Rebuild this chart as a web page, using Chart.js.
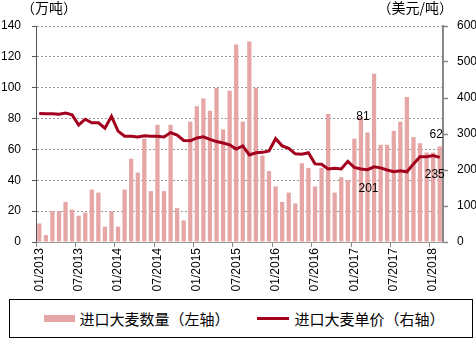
<!DOCTYPE html>
<html>
<head>
<meta charset="utf-8">
<script src="https://cdn.jsdelivr.net/npm/chart.js@4.4.1/dist/chart.umd.min.js"></script>
<style>
  html, body { margin: 0; padding: 0; background: #fff; }
  #wrap { position: relative; width: 476px; height: 339px; }
  #chart { position: absolute; left: 0; top: 0; }
  #legend {
    position: absolute; left: 9px; top: 299px; height: 37px;
    border: 1px solid #000; display: flex; align-items: center;
    padding-left: 34px; box-sizing: content-box; width: 428px;
    font: 15px "Noto Sans CJK SC", sans-serif; color: #000;
  }
  .item { display: flex; align-items: center; margin-right: 30px; }
  .swatch { margin-right: 4px; }
</style>
</head>
<body>
<div id="wrap">
  <canvas id="chart" width="476" height="299"></canvas>
  <div id="legend"></div>
</div>
<script>
const months = [
  '01/2013', '02/2013', '03/2013', '04/2013', '05/2013', '06/2013', '07/2013', '08/2013', '09/2013', '10/2013', '11/2013', '12/2013',
  '01/2014', '02/2014', '03/2014', '04/2014', '05/2014', '06/2014', '07/2014', '08/2014', '09/2014', '10/2014', '11/2014', '12/2014',
  '01/2015', '02/2015', '03/2015', '04/2015', '05/2015', '06/2015', '07/2015', '08/2015', '09/2015', '10/2015', '11/2015', '12/2015',
  '01/2016', '02/2016', '03/2016', '04/2016', '05/2016', '06/2016', '07/2016', '08/2016', '09/2016', '10/2016', '11/2016', '12/2016',
  '01/2017', '02/2017', '03/2017', '04/2017', '05/2017', '06/2017', '07/2017', '08/2017', '09/2017', '10/2017', '11/2017', '12/2017',
  '01/2018', '02/2018'
];

// 进口大麦数量, 万吨
const importVolume = [
  12, 4.5, 20, 20, 26, 21, 17, 19, 34, 32, 10, 20,
  10, 34, 54, 45, 67, 33, 76, 33, 76, 22, 14, 78,
  88, 93, 85, 100, 73, 98, 128, 78, 130, 100, 56, 46,
  36, 26, 32, 25, 51, 48, 36, 48, 83, 32, 42, 40,
  67, 81, 71, 109, 63, 63, 72, 78, 94, 68, 64, 58,
  58, 62
];

// 进口大麦单价, 美元/吨
const importPrice = [
  357, 356, 356, 355, 358, 353, 325, 341, 331, 331, 316, 349,
  308, 294, 294, 292, 295, 294, 294, 292, 304, 297, 282, 281,
  289, 292, 285, 279, 275, 270, 258, 267, 242, 248, 249, 253,
  287, 267, 260, 245, 244, 248, 217, 216, 203, 205, 203, 224,
  207, 203, 201, 209, 206, 200, 195, 198, 195, 217, 237, 237,
  240, 235
];

const volumeLabel = '进口大麦数量（左轴）';
const priceLabel = '进口大麦单价（右轴）';
const leftUnit = '（万吨）';
const rightUnit = '（美元/吨）';

// which points get a value written next to them
const volumeCallouts = [49, 61];
const priceCallouts = [50, 61];

const tickFont = { family: '"Liberation Sans", Arial, sans-serif', size: 12 };
const barColor = '#E6A6A6';
const lineColor = '#A3001E';

const extras = {
  id: 'extras',
  afterDatasetsDraw(chart) {
    const { ctx, chartArea } = chart;
    ctx.save();
    ctx.fillStyle = '#000';
    ctx.textBaseline = 'middle';
    ctx.font = '14px "Noto Sans CJK SC"';
    ctx.textAlign = 'left';
    ctx.fillText(leftUnit, chartArea.left - 15, chartArea.top - 18);
    ctx.textAlign = 'right';
    ctx.fillText(rightUnit, chartArea.right + 10, chartArea.top - 18);

    ctx.font = '12px "Liberation Sans", Arial, sans-serif';
    ctx.textAlign = 'center';
    ctx.textBaseline = 'alphabetic';
    const bars = chart.getDatasetMeta(1).data;
    const line = chart.getDatasetMeta(0).data;
    const volOffsets = [[2, 3], [-3.5, -8]];
    const priceOffsets = [[1, 22], [-5, 21]];
    volumeCallouts.forEach((i, k) => {
      const el = bars[i];
      ctx.fillText(String(importVolume[i]), el.x + volOffsets[k][0], el.y + volOffsets[k][1]);
    });
    priceCallouts.forEach((i, k) => {
      const el = line[i];
      ctx.fillText(String(importPrice[i]), el.x + priceOffsets[k][0], el.y + priceOffsets[k][1]);
    });
    ctx.restore();
  }
};

const chart = new Chart(document.getElementById('chart'), {
  type: 'bar',
  data: {
    labels: months,
    datasets: [
      {
        type: 'line',
        label: priceLabel,
        data: importPrice,
        yAxisID: 'y1',
        borderColor: lineColor,
        backgroundColor: lineColor,
        borderWidth: 3,
        pointRadius: 0,
        tension: 0,
        order: 0
      },
      {
        type: 'bar',
        label: volumeLabel,
        data: importVolume,
        yAxisID: 'y',
        backgroundColor: barColor,
        barPercentage: 0.65,
        categoryPercentage: 1,
        order: 1
      }
    ]
  },
  options: {
    responsive: false,
    animation: false,
    devicePixelRatio: 1,
    layout: { padding: { top: 26, left: 0, right: 0, bottom: 0 } },
    plugins: { legend: { display: false }, tooltip: { enabled: false } },
    scales: {
      x: {
        offset: true,
        grid: {
          offset: true,
          drawOnChartArea: false,
          tickLength: 5,
          tickColor: c => (c.index % 6 === 0 ? '#888' : 'rgba(0,0,0,0)')
        },
        border: { color: '#999', width: 1 },
        ticks: {
          autoSkip: false,
          maxRotation: 90,
          minRotation: 90,
          padding: 1,
          color: '#000',
          font: tickFont,
          callback: (v, i) => (i % 6 === 0 ? months[i] : '')
        },
        afterFit: s => { s.height = 57; }
      },
      y: {
        position: 'left',
        min: 0,
        max: 140,
        ticks: { stepSize: 20, padding: 11, color: '#000', font: tickFont },
        grid: {
          color: c => (c.tick.value === 0 ? 'rgba(0,0,0,0)' : '#999'),
          tickColor: '#555',
          tickLength: 4,
          tickBorderDash: []
        },
        border: { color: '#555', width: 1, dash: [2, 2] },
        afterFit: s => { s.width = 36; }
      },
      y1: {
        position: 'right',
        min: 0,
        max: 600,
        ticks: { stepSize: 100, padding: 9, color: '#000', font: tickFont },
        grid: { drawOnChartArea: false, tickLength: 5, tickColor: '#888', tickWidth: 1.5 },
        border: { color: '#888', width: 2 },
        afterFit: s => { s.width = 33; }
      }
    }
  },
  plugins: [extras]
});

// legend, built from the datasets
const legendEl = document.getElementById('legend');
[chart.data.datasets[1], chart.data.datasets[0]].forEach(ds => {
  const item = document.createElement('div');
  item.className = 'item';
  const sw = document.createElement('span');
  sw.className = 'swatch';
  sw.style.display = 'inline-block';
  if (ds.type === 'bar') {
    sw.style.width = '32px';
    sw.style.height = '7px';
    sw.style.background = ds.backgroundColor;
  } else {
    sw.style.width = '33px';
    sw.style.height = '3px';
    sw.style.background = ds.borderColor;
    sw.style.marginRight = '5px';
  }
  const txt = document.createElement('span');
  txt.textContent = ds.label;
  item.appendChild(sw);
  item.appendChild(txt);
  legendEl.appendChild(item);
});
</script>
</body>
</html>
